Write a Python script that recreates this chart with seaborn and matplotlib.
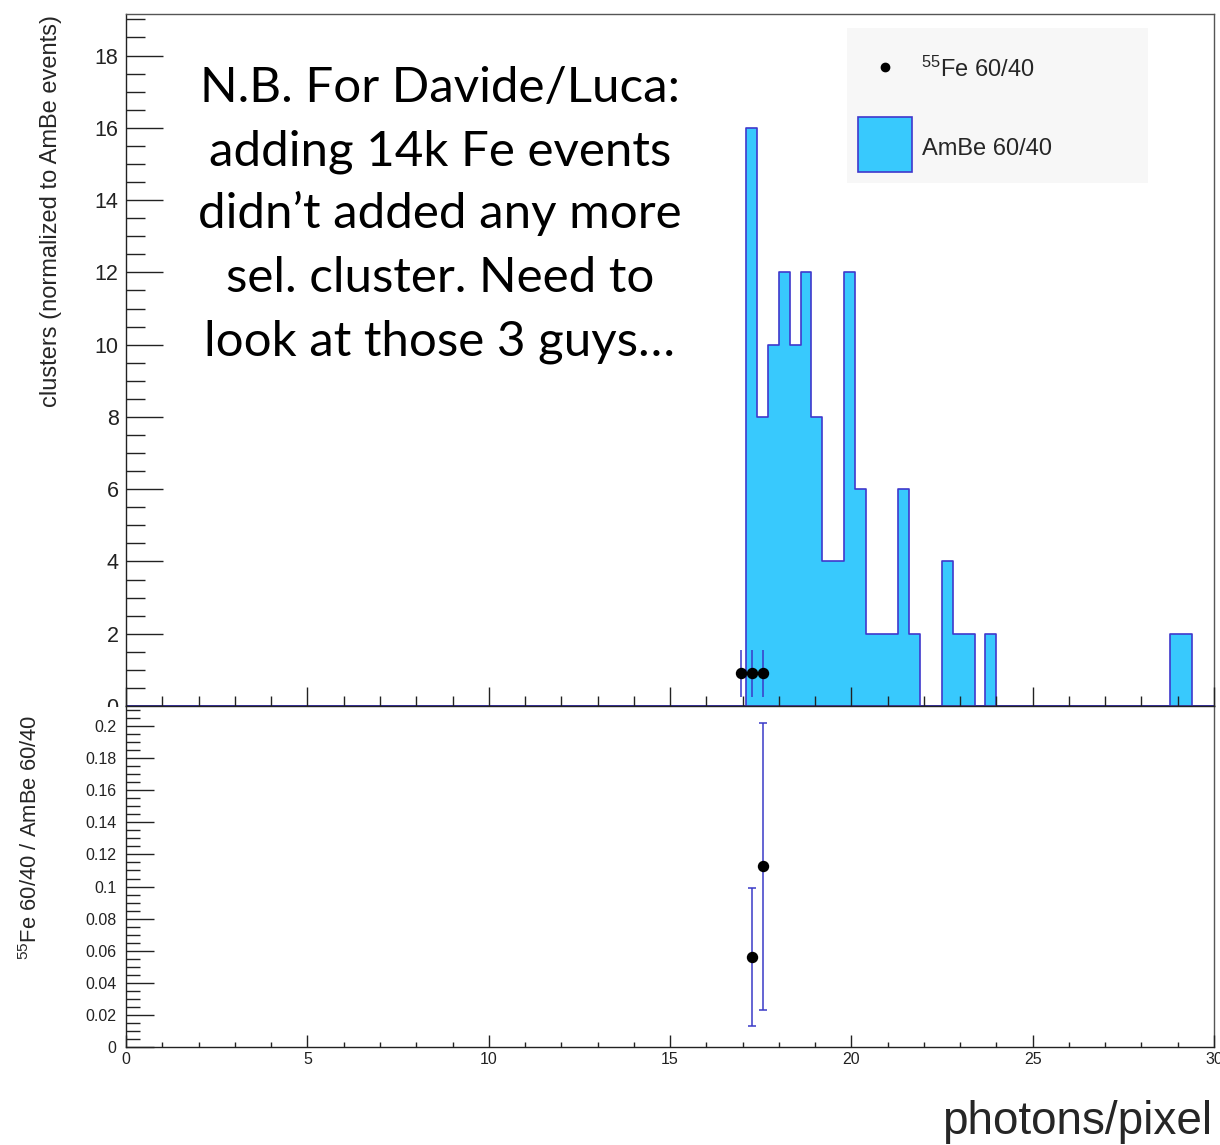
import numpy as np
import pandas as pd
import matplotlib
matplotlib.use("Agg")
import matplotlib.pyplot as plt
from matplotlib.ticker import MultipleLocator, FuncFormatter
from matplotlib.patches import Rectangle
from matplotlib.lines import Line2D
import seaborn as sns

# ---------------------------------------------------------------------------
# Data
# ---------------------------------------------------------------------------
# AmBe 60/40: histogram with 0.3 photons/pixel bins (lower edge, normalized counts)
bin_width = 0.3
ambe_bin_low = [17.1, 17.4, 17.7, 18.0, 18.3, 18.6, 18.9, 19.2, 19.5, 19.8, 20.1,
                20.4, 20.7, 21.0, 21.3, 21.6, 22.5, 22.8, 23.1, 23.7, 28.8, 29.1]
ambe_counts = [16, 8, 10, 12, 10, 12, 8, 4, 4, 12, 6,
               2, 2, 2, 6, 2, 4, 2, 2, 2, 2, 2]

# 55Fe 60/40: selected clusters (bin centres, normalized counts, errors)
fe_x = [16.95, 17.25, 17.55]
fe_counts = [0.9, 0.9, 0.9]
fe_err = [0.64, 0.64, 0.64]

# Ratio 55Fe / AmBe where both are filled
ratio_x = [17.25, 17.55]
ratio_vals = [0.056, 0.1125]
ratio_err = [0.043, 0.0895]

note_lines = ["N.B. For Davide/Luca:",
              "adding 14k Fe events",
              "didn\u2019t added any more",
              "sel. cluster. Need to",
              "look at those 3 guys\u2026"]

fe_label = "$^{55}$Fe 60/40"
ambe_label = "AmBe 60/40"

# ---------------------------------------------------------------------------
# Style
# ---------------------------------------------------------------------------
sns.set_style("ticks")
plt.rcParams["font.family"] = ["Liberation Sans", "DejaVu Sans"]
plt.rcParams["mathtext.default"] = "regular"
plt.rcParams["axes.axisbelow"] = False

FILL = "#38c9fd"
EDGE = "#4038cc"
ERR = "#3a3ac8"
AX = "#222222"

W, H = 1220, 1145
fig = plt.figure(figsize=(W / 100, H / 100), dpi=100)
fig.patch.set_facecolor("white")


def fx(px):
    return px / W


def fy(py):
    return 1 - py / H


x0, x1 = 126.2, 1213.9
ax = fig.add_axes([fx(x0), fy(706), (x1 - x0) / W, (706 - 14) / H])
ax2 = fig.add_axes([fx(x0), fy(1047), (x1 - x0) / W, (1047 - 706) / H])

# ---------------------------------------------------------------------------
# Upper pad: AmBe histogram + 55Fe points
# ---------------------------------------------------------------------------
edges = [round(0.3 * i, 1) for i in range(101)]
ambe_df = pd.DataFrame({"x": [lo + bin_width / 2 for lo in ambe_bin_low],
                        "w": ambe_counts})
sns.histplot(data=ambe_df, x="x", weights="w", bins=edges, element="step",
             fill=True, facecolor=FILL, edgecolor=EDGE, linewidth=1.2,
             alpha=1, ax=ax)

ax.errorbar(fe_x, fe_counts, yerr=fe_err, fmt="o", color="black",
            ecolor=ERR, elinewidth=1.1, capsize=0, markersize=7.2, zorder=5)

ax.set_xlim(0, 30)
ax.set_ylim(0, 19.15)
ax.set_xlabel("")
ax.set_ylabel("clusters (normalized to AmBe events)", fontsize=17, loc="top")
ax.yaxis.set_label_coords((62 - x0) / (x1 - x0), (706 - 15) / (706 - 14))

ax.xaxis.set_major_locator(MultipleLocator(5))
ax.xaxis.set_minor_locator(MultipleLocator(1))
ax.yaxis.set_major_locator(MultipleLocator(2))
ax.yaxis.set_minor_locator(MultipleLocator(0.5))
ax.tick_params(axis="both", which="both", direction="in", colors=AX,
               top=False, right=False)
ax.tick_params(axis="y", which="major", length=26.4, width=1.0, labelsize=15.5, pad=5.5)
ax.tick_params(axis="y", which="minor", length=13.9, width=1.0)
ax.tick_params(axis="x", which="major", length=13.5, width=1.0, labelbottom=False)
ax.tick_params(axis="x", which="minor", length=7.2, width=1.0)
for s in ax.spines.values():
    s.set_color(AX)
    s.set_linewidth(1.0)
ax.spines["top"].set_color("#555555")
ax.spines["right"].set_color("#555555")

# Legend box
fig.add_artist(Rectangle((fx(847), fy(183)), fx(1148) - fx(847), fy(28) - fy(183),
                         facecolor="#f7f7f7", edgecolor="none", zorder=6))
fig.add_artist(Line2D([fx(885)], [fy(67)], marker="o", color="black",
                      markersize=6, linestyle="none", zorder=7))
fig.add_artist(Rectangle((fx(858), fy(172)), fx(912) - fx(858), fy(117) - fy(172),
                         facecolor=FILL, edgecolor=EDGE, linewidth=1.2, zorder=7))
fig.text(fx(921), fy(77), fe_label, fontsize=17, ha="left", va="baseline", zorder=8)
fig.text(fx(922), fy(155), ambe_label, fontsize=17, ha="left", va="baseline", zorder=8)

# Note
note_baselines = [102, 165, 228, 292, 356]
for line, yb in zip(note_lines, note_baselines):
    fig.text(fx(440), fy(yb), line, fontsize=35.5, family=["Lato", "DejaVu Sans"],
             ha="center", va="baseline", color="black", zorder=8)

# ---------------------------------------------------------------------------
# Lower pad: ratio
# ---------------------------------------------------------------------------
ax2.errorbar(ratio_x, ratio_vals, yerr=ratio_err, fmt="o", color="black",
             ecolor=ERR, elinewidth=1.1, capsize=3, capthick=1.1,
             markersize=7.2, zorder=5)
ax2.set_xlim(0, 30)
ax2.set_ylim(0, 0.2125)
ax2.xaxis.set_major_locator(MultipleLocator(5))
ax2.xaxis.set_minor_locator(MultipleLocator(1))
ax2.yaxis.set_major_locator(MultipleLocator(0.02))
ax2.yaxis.set_minor_locator(MultipleLocator(0.005))
ax2.yaxis.set_major_formatter(FuncFormatter(lambda v, p: f"{round(v, 4):g}"))
ax2.tick_params(axis="both", which="both", direction="in", colors=AX,
                top=False, right=False)
ax2.tick_params(axis="y", which="major", length=19.9, width=1.0, labelsize=11.5, pad=7)
ax2.tick_params(axis="y", which="minor", length=10, width=1.0)
ax2.tick_params(axis="x", which="major", length=8.6, width=1.0, labelsize=11.5, pad=3.5)
ax2.tick_params(axis="x", which="minor", length=3.5, width=1.0)
for s in ax2.spines.values():
    s.set_color(AX)
    s.set_linewidth(1.0)
ax2.spines["right"].set_color("#555555")

ax2.set_ylabel("$^{55}$Fe 60/40 / AmBe 60/40", fontsize=15.8, loc="top")
ax2.yaxis.set_label_coords((42 - x0) / (x1 - x0), (1047 - 715) / (1047 - 706))
ax2.set_xlabel("photons/pixel", fontsize=33, loc="right")
ax2.xaxis.set_label_coords((1212 - x0) / (x1 - x0), (1047 - 1100) / (1047 - 706))

# The lower pad hides the bottom half of the upper "0" label
fig.add_artist(Rectangle((fx(70), fy(716)), fx(125) - fx(70), fy(707) - fy(716),
                         facecolor="white", edgecolor="none", zorder=3))

fig.savefig("out.png", dpi=100)
